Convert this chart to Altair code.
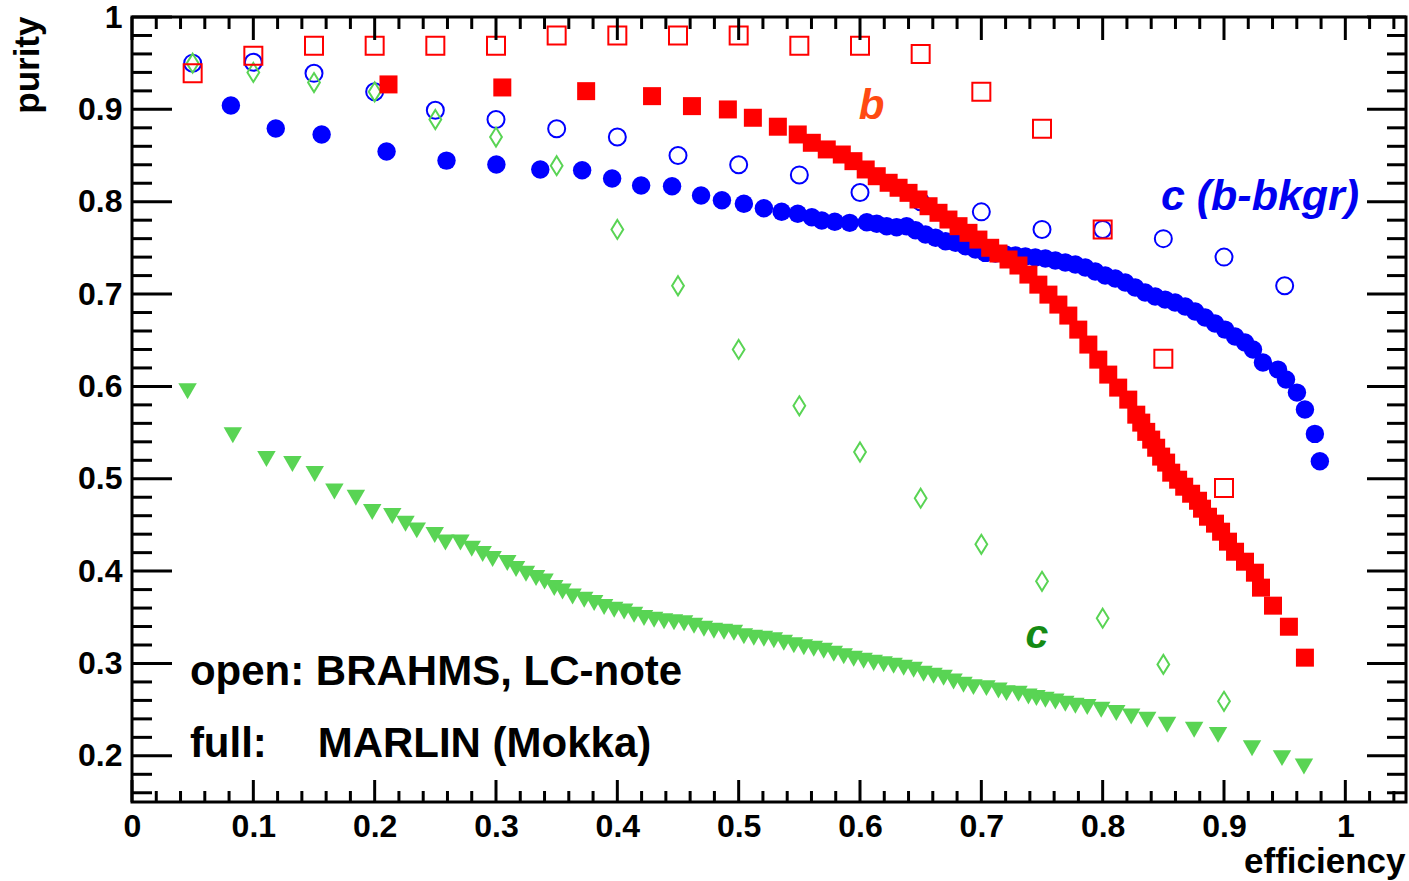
import altair as alt
import pandas as pd
import numpy as np

FONT = "Liberation Sans"
W, H = 1274, 785

# ---------------- data: BRAHMS (open markers) ----------------
brahms_eff = [0.05, 0.10, 0.15, 0.20, 0.25, 0.30, 0.35, 0.40, 0.45, 0.50,
              0.55, 0.60, 0.65, 0.70, 0.75, 0.80, 0.85, 0.90, 0.95]
brahms_b_purity = [0.939, 0.958, 0.969, 0.969, 0.969, 0.969, 0.980, 0.980, 0.980, 0.980,
                   0.969, 0.969, 0.960, 0.919, 0.879, 0.770, 0.630, 0.490]
brahms_cbb_purity = [0.950, 0.951, 0.939, 0.919, 0.899, 0.889, 0.879, 0.870, 0.850, 0.840,
                     0.829, 0.810, 0.800, 0.789, 0.770, 0.770, 0.760, 0.740, 0.709]
brahms_c_purity = [0.950, 0.940, 0.929, 0.919, 0.889, 0.870, 0.839, 0.770, 0.709, 0.640,
                   0.579, 0.529, 0.479, 0.429, 0.389, 0.349, 0.299, 0.259]

# ---------------- data: MARLIN (full markers) ----------------
marlin_cbb_eff = [0.0815, 0.1185, 0.1563, 0.2098, 0.2592, 0.3003, 0.3365, 0.3710, 0.3957, 0.4196,
                  0.4451, 0.4690, 0.4862, 0.5043, 0.5208, 0.5354, 0.5487, 0.5603, 0.5685, 0.5792,
                  0.5915, 0.6056, 0.6138, 0.6220, 0.6302, 0.6384, 0.6458, 0.6540, 0.6623, 0.6705,
                  0.6787, 0.6870, 0.6952, 0.7034, 0.7116, 0.7199, 0.7281, 0.7363, 0.7445, 0.7528,
                  0.7610, 0.7692, 0.7775, 0.7857, 0.7939, 0.8021, 0.8104, 0.8186, 0.8268, 0.8350,
                  0.8433, 0.8515, 0.8597, 0.8680, 0.8762, 0.8844, 0.8926, 0.9009, 0.9091, 0.9173,
                  0.9239, 0.9321, 0.9445, 0.9511, 0.9601, 0.9667, 0.9749, 0.9790]
marlin_cbb_purity = [0.9041, 0.8792, 0.8727, 0.8543, 0.8445, 0.8402, 0.8348, 0.8341, 0.8251, 0.8175,
                     0.8168, 0.8067, 0.8016, 0.7977, 0.7930, 0.7891, 0.7869, 0.7832, 0.7796, 0.7782,
                     0.7771, 0.7778, 0.7761, 0.7735, 0.7724, 0.7735, 0.7691, 0.7645, 0.7609, 0.7572,
                     0.7555, 0.7518, 0.7482, 0.7446, 0.7439, 0.7428, 0.7417, 0.7406, 0.7396, 0.7385,
                     0.7363, 0.7341, 0.7320, 0.7287, 0.7244, 0.7200, 0.7168, 0.7125, 0.7070, 0.7016,
                     0.6973, 0.6940, 0.6908, 0.6865, 0.6811, 0.6746, 0.6681, 0.6615, 0.6540, 0.6475,
                     0.6399, 0.6258, 0.6182, 0.6074, 0.5933, 0.5749, 0.5486, 0.5189]

marlin_b_eff = [0.2114, 0.3052, 0.3743, 0.4286, 0.4615, 0.4911, 0.5117, 0.5323, 0.5487, 0.5603,
                0.5726, 0.5850, 0.5946, 0.6047, 0.6138, 0.6236, 0.6318, 0.6400, 0.6482, 0.6565,
                0.6647, 0.6729, 0.6812, 0.6894, 0.6976, 0.7073, 0.7141, 0.7224, 0.7306, 0.7388,
                0.7470, 0.7553, 0.7635, 0.7717, 0.7799, 0.7882, 0.7964, 0.8046, 0.8128, 0.8211,
                0.8277, 0.8318, 0.8359, 0.8400, 0.8441, 0.8482, 0.8523, 0.8565, 0.8622, 0.8672,
                0.8729, 0.8786, 0.8819, 0.8868, 0.8926, 0.8976, 0.9033, 0.9091, 0.9173, 0.9255,
                0.9305, 0.9404, 0.9535, 0.9667]
marlin_b_purity = [0.9270, 0.9237, 0.9197, 0.9143, 0.9035, 0.8999, 0.8909, 0.8812, 0.8728, 0.8638,
                   0.8566, 0.8511, 0.8439, 0.8349, 0.8276, 0.8205, 0.8151, 0.8096, 0.8024, 0.7951,
                   0.7880, 0.7807, 0.7735, 0.7663, 0.7590, 0.7501, 0.7439, 0.7374, 0.7309, 0.7211,
                   0.7102, 0.6994, 0.6886, 0.6767, 0.6615, 0.6453, 0.6290, 0.6128, 0.5987, 0.5857,
                   0.5694, 0.5608, 0.5508, 0.5424, 0.5336, 0.5240, 0.5175, 0.5066, 0.4990, 0.4914,
                   0.4838, 0.4762, 0.4676, 0.4589, 0.4514, 0.4427, 0.4319, 0.4210, 0.4102, 0.3983,
                   0.3821, 0.3626, 0.3398, 0.3063]

marlin_c_eff = [0.0458, 0.0831, 0.1108, 0.1322, 0.1506, 0.1668, 0.1845, 0.1980, 0.2145, 0.2254,
                0.2347, 0.2495, 0.2583, 0.2707, 0.2800, 0.2890, 0.2972, 0.3093, 0.3165, 0.3247,
                0.3330, 0.3400, 0.3480, 0.3548, 0.3631, 0.3727, 0.3809, 0.3891, 0.3974, 0.4056,
                0.4138, 0.4220, 0.4303, 0.4385, 0.4467, 0.4550, 0.4632, 0.4714, 0.4796, 0.4879,
                0.4961, 0.5043, 0.5125, 0.5208, 0.5290, 0.5372, 0.5455, 0.5537, 0.5619, 0.5701,
                0.5784, 0.5866, 0.5948, 0.6030, 0.6113, 0.6195, 0.6277, 0.6360, 0.6442, 0.6524,
                0.6606, 0.6689, 0.6771, 0.6853, 0.6935, 0.7042, 0.7141, 0.7207, 0.7306, 0.7388,
                0.7454, 0.7528, 0.7610, 0.7692, 0.7775, 0.7873, 0.7988, 0.8112, 0.8235, 0.8367,
                0.8531, 0.8754, 0.8951, 0.9231, 0.9478, 0.9659]
marlin_c_purity = [0.5947, 0.5470, 0.5214, 0.5160, 0.5052, 0.4863, 0.4795, 0.4640, 0.4597, 0.4513,
                   0.4441, 0.4391, 0.4311, 0.4311, 0.4243, 0.4185, 0.4131, 0.4088, 0.4023, 0.3972,
                   0.3925, 0.3888, 0.3817, 0.3780, 0.3726, 0.3690, 0.3654, 0.3611, 0.3582, 0.3563,
                   0.3528, 0.3492, 0.3473, 0.3457, 0.3446, 0.3436, 0.3408, 0.3376, 0.3354, 0.3343,
                   0.3333, 0.3295, 0.3278, 0.3268, 0.3251, 0.3224, 0.3197, 0.3175, 0.3159, 0.3138,
                   0.3105, 0.3078, 0.3051, 0.3029, 0.3007, 0.2991, 0.2975, 0.2953, 0.2932, 0.2888,
                   0.2867, 0.2845, 0.2805, 0.2769, 0.2744, 0.2733, 0.2707, 0.2679, 0.2672, 0.2642,
                   0.2625, 0.2607, 0.2588, 0.2563, 0.2542, 0.2528, 0.2498, 0.2463, 0.2426, 0.2390,
                   0.2336, 0.2282, 0.2227, 0.2083, 0.1975, 0.1884]

# ---------------- axis ticks / labels ----------------
x_labels = [0, 0.1, 0.2, 0.3, 0.4, 0.5, 0.6, 0.7, 0.8, 0.9, 1.0]
y_labels = [0.2, 0.3, 0.4, 0.5, 0.6, 0.7, 0.8, 0.9, 1.0]
x_minor = [v for v in np.round(np.arange(0.02, 1.05, 0.02), 2) if abs(v * 10 - round(v * 10)) > 1e-6]
y_minor = [v for v in np.round(np.arange(0.16, 1.0, 0.02), 2) if abs(v * 10 - round(v * 10)) > 1e-6]

# ---------------- annotations ----------------
notes_black = pd.DataFrame({
    "x": [0.0477, 0.0477, 0.153],
    "y": [0.2769, 0.1989, 0.1989],
    "t": ["open: BRAHMS, LC-note", "full:", "MARLIN (Mokka)"],
})

BLUE = "#0000ff"
RED = "#ff0000"
GREEN = "#59d454"

xs = alt.Scale(domain=[0, 1.05], nice=False, zero=False)
ys = alt.Scale(domain=[0.15, 1.0], nice=False, zero=False)

xax = alt.Axis(values=x_labels, format="~g", ticks=False, tickSize=0, domain=False, grid=False,
               labelFont=FONT, labelFontWeight="bold", labelFontSize=32, labelColor="black",
               labelPadding=9, labelFlush=False, labelOverlap=False,
               title="efficiency", titleFont=FONT, titleFontWeight="bold", titleFontSize=35,
               titleColor="black", titleAlign="right", titleBaseline="alphabetic",
               titleX=W - 1, titleY=70)
yax = alt.Axis(values=y_labels, format="~g", ticks=False, tickSize=0, domain=False, grid=False,
               labelFont=FONT, labelFontWeight="bold", labelFontSize=32, labelColor="black",
               labelPadding=10, labelFlush=False, labelOverlap=False,
               title="purity", titleFont=FONT, titleFontWeight="bold", titleFontSize=35,
               titleColor="black", titleAngle=270, titleAlign="right", titleBaseline="alphabetic",
               titleX=-94, titleY=-1)


def X(f="x"):
    return alt.X(f + ":Q", scale=xs, axis=xax)


def Y(f="y"):
    return alt.Y(f + ":Q", scale=ys, axis=yax)


def points(xv, yv, shape, size, color, filled, sw=2):
    df = pd.DataFrame({"x": xv[:len(yv)], "y": yv})
    if filled:
        m = alt.Chart(df).mark_point(shape=shape, size=size, filled=True, fill=color,
                                     strokeWidth=0, opacity=1)
    else:
        m = alt.Chart(df).mark_point(shape=shape, size=size, filled=False, stroke=color,
                                     strokeWidth=sw, opacity=1)
    return m.encode(x=X(), y=Y())


def xticks(vals, side, length):
    df = pd.DataFrame({"t": vals})
    if side == "bottom":
        ye, y2e = alt.value(H), alt.value(H - length)
    else:
        ye, y2e = alt.value(0), alt.value(length)
    return alt.Chart(df).mark_rule(color="black", strokeWidth=3).encode(x=X("t"), y=ye, y2=y2e)


def yticks(vals, side, length):
    df = pd.DataFrame({"t": vals})
    if side == "left":
        xe, x2e = alt.value(0), alt.value(length)
    else:
        xe, x2e = alt.value(W), alt.value(W - length)
    return alt.Chart(df).mark_rule(color="black", strokeWidth=3).encode(y=Y("t"), x=xe, x2=x2e)


def label(txt, xv, yv, color, size, italic=True):
    df = pd.DataFrame({"x": [xv], "y": [yv], "t": [txt]})
    return alt.Chart(df).mark_text(align="left", baseline="alphabetic", font=FONT,
                                   fontWeight="bold", fontStyle="italic" if italic else "normal",
                                   fontSize=size, color=color).encode(x=X(), y=Y(), text="t:N")


DIAMOND = "M0,-1L0.62,0L0,1L-0.62,0Z"

layers = [
    points(marlin_cbb_eff, marlin_cbb_purity, "circle", 340, BLUE, True),
    points(brahms_eff, brahms_cbb_purity, "circle", 289, BLUE, False),
    points(marlin_c_eff, marlin_c_purity, "triangle-down", 340, GREEN, True),
    points(brahms_eff, brahms_c_purity, DIAMOND, 361, GREEN, False),
    points(brahms_eff, brahms_b_purity, "square", 324, RED, False),
    points(marlin_b_eff, marlin_b_purity, "square", 324, RED, True),
    alt.Chart(notes_black).mark_text(align="left", baseline="alphabetic", font=FONT,
                                     fontWeight="bold", fontSize=42, color="black"
                                     ).encode(x=X(), y=Y(), text="t:N"),
    label("b", 0.599, 0.890, "#ff4a12", 42),
    label("c (b-bkgr)", 0.848, 0.7915, "#0000f0", 43),
    label("c", 0.7363, 0.317, "#148a14", 41),
    xticks(x_labels, "bottom", 22),
    xticks(x_minor, "bottom", 11),
    xticks(x_labels, "top", 23),
    xticks(x_minor, "top", 12),
    yticks(y_labels, "left", 40),
    yticks(y_minor, "left", 20),
    yticks(y_labels, "right", 39),
    yticks(y_minor, "right", 19),
]

chart = alt.layer(*layers).properties(
    width=W, height=H,
    autosize=alt.AutoSizeParams(type="none"),
    padding={"left": 132, "top": 17, "right": 3, "bottom": 79},
    background="white",
).configure_view(stroke="black", strokeWidth=3)

chart.save("out.html", embed_options={"renderer": "svg", "actions": False})
